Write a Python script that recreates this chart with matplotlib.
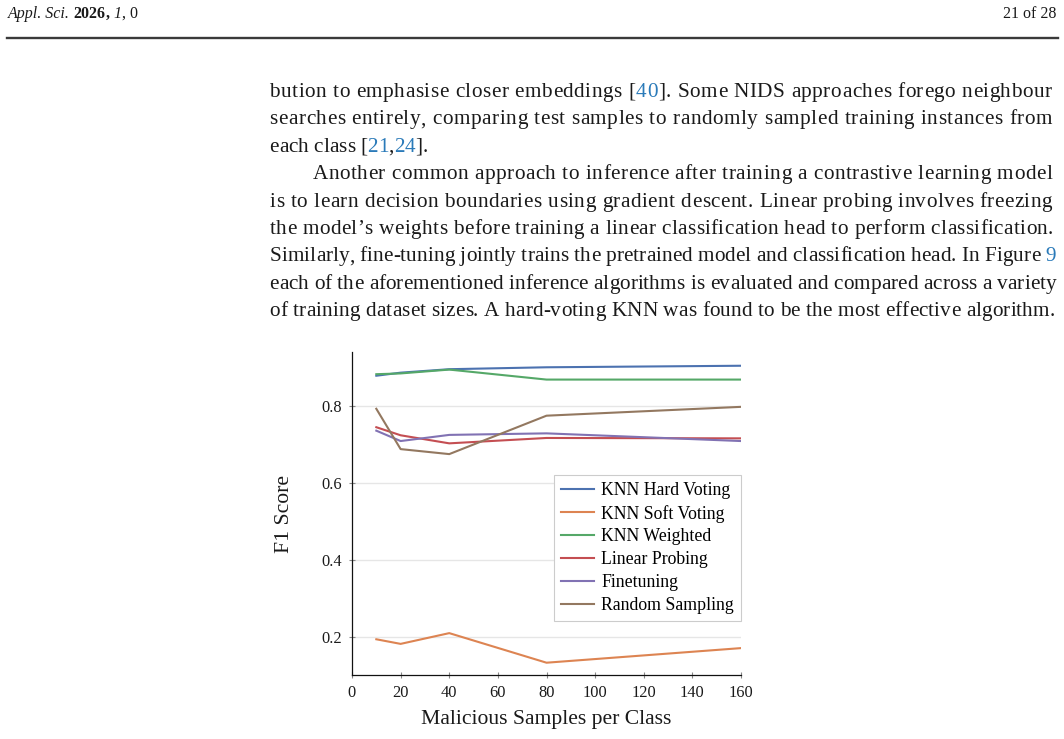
import re

import matplotlib

matplotlib.use("Agg")
import matplotlib.pyplot as plt
from matplotlib import font_manager
from matplotlib.ft2font import FT2Font

# data
samples = [10, 20, 40, 80, 160]
knn_hard = [0.879, 0.887, 0.896, 0.901, 0.905]
knn_soft = [0.193, 0.181, 0.209, 0.132, 0.170]
knn_weighted = [0.883, 0.885, 0.895, 0.869, 0.869]
linear_probing = [0.745, 0.724, 0.703, 0.717, 0.716]
finetuning = [0.736, 0.709, 0.725, 0.729, 0.709]
random_sampling = [0.793, 0.688, 0.675, 0.775, 0.798]

series_names = [
    "KNN Hard Voting",
    "KNN Soft Voting",
    "KNN Weighted",
    "Linear Probing",
    "Finetuning",
    "Random Sampling",
]
x_ticks = [0, 20, 40, 60, 80, 100, 120, 140, 160]
y_ticks = [0.2, 0.4, 0.6, 0.8]

# page text around the figure, {..} marks a blue reference link
body_lines = [
    "bution to emphasise closer embeddings [{40}]. Some NIDS approaches forego neighbour",
    "searches entirely, comparing test samples to randomly sampled training instances from",
    "each class [{21},{24}].",
    "Another common approach to inference after training a contrastive learning model",
    "is to learn decision boundaries using gradient descent. Linear probing involves freezing",
    "the model\u2019s weights before training a linear classification head to perform classification.",
    "Similarly, fine-tuning jointly trains the pretrained model and classification head. In Figure {9}",
    "each of the aforementioned inference algorithms is evaluated and compared across a variety",
    "of training dataset sizes. A hard-voting KNN was found to be the most effective algorithm.",
]

W, H = 1064, 739
SERIF = ["Liberation Serif", "DejaVu Serif"]
INK = "#1a1a1a"
LINK = "#2a7ab9"
colors = ["#4c72b0", "#dd8452", "#55a868", "#c44e52", "#8172b3", "#937860"]
BODY_SIZE = 15.3

plt.rcParams["font.family"] = SERIF

fig = plt.figure(figsize=(W / 100, H / 100), dpi=100)
fig.patch.set_facecolor("white")
renderer = fig.canvas.get_renderer()

# glyph advances for the body font, so the lines can be set justified
ft = FT2Font(font_manager.findfont(font_manager.FontProperties(family=SERIF)))
ft.set_size(BODY_SIZE, 100)
_adv = {}


def advance(c):
    if c not in _adv:
        g = ft.load_char(ord(c))
        _adv[c] = g.linearHoriAdvance / 65536
    return _adv[c]


def fx(x):
    return x / W


def fy(y):
    return 1 - y / H


def text_width(s, size, **kw):
    t = fig.text(0, 0, s, fontsize=size, **kw)
    w = t.get_window_extent(renderer).width
    t.remove()
    return w


def split_line(line):
    # list of (char, colour)
    out = []
    for part in re.split(r"(\{[^}]*\})", line):
        if not part:
            continue
        if part.startswith("{"):
            out += [(ch, LINK) for ch in part[1:-1]]
        else:
            out += [(ch, INK) for ch in part]
    return out


def draw_line(line, y, x0, x1, justify=True):
    chars = split_line(line)
    natural = sum(advance(c) for c, _ in chars)
    n_space = sum(1 for c, _ in chars if c == " ")
    n_letter = len(chars) - 1 - n_space
    track = 0.0
    if justify:
        # spaces take twice the extra of a letter gap
        track = (x1 - x0 - natural) / (n_letter + 2 * n_space)
    x = x0
    for i, (c, col) in enumerate(chars):
        if c == " ":
            x += advance(c) + 2 * track
            continue
        fig.text(fx(x), fy(y), c, fontsize=BODY_SIZE, color=col,
                 ha="left", va="baseline")
        x += advance(c)
        if i + 1 < len(chars) and chars[i + 1][0] != " ":
            x += track


# header
hx = 8
for s, kw in [
    ("Appl. Sci.", dict(style="italic")),
    (" ", {}),
    ("2026", dict(weight="bold")),
    (",", dict(weight="bold")),
    (" ", {}),
    ("1", dict(style="italic")),
    (", 0", {}),
]:
    if s == " ":
        hx += 4
        continue
    fig.text(fx(hx), fy(17.5), s, fontsize=11.5, color=INK,
             ha="left", va="baseline", **kw)
    hx += text_width(s, 11.5, **kw)
fig.text(fx(1056), fy(17.5), "21 of 28", fontsize=11.5, color=INK,
         ha="right", va="baseline")
fig.add_artist(plt.Line2D([fx(7), fx(1058)], [fy(37.8), fy(37.8)],
                          color="#3a3a3a", lw=1.7))

# body text
left, right = 269.5, 1057
for i, line in enumerate(body_lines):
    y = 97 + 27.4 * i
    x0 = 312.5 if i == 3 else left
    draw_line(line, y, x0, right, justify=(i != 2))

# chart
ax = fig.add_axes([fx(352), fy(675), (741 - 352) / W, (675 - 352.3) / H])
all_series = [knn_hard, knn_soft, knn_weighted,
              linear_probing, finetuning, random_sampling]
for vals, name, c in zip(all_series, series_names, colors):
    ax.plot(samples, vals, color=c, lw=1.5, label=name)

ax.set_xlim(0, 160)
ax.set_ylim(0.1, 0.94)
ax.set_xticks(x_ticks)
ax.set_yticks(y_ticks)
ax.set_yticklabels(["%.1f" % v for v in y_ticks])

ax.yaxis.grid(True, color="#e6e6e6", lw=1)
ax.set_axisbelow(True)
for side in ["top", "right"]:
    ax.spines[side].set_visible(False)
for side in ["left", "bottom"]:
    ax.spines[side].set_linewidth(0.9)
    ax.spines[side].set_color("#111111")

ax.tick_params(axis="both", direction="inout", length=5, width=0.8,
               color="#888888", labelsize=11.8, labelcolor=INK)
ax.tick_params(axis="x", pad=5)
ax.tick_params(axis="y", pad=4.5)

ax.set_xlabel("Malicious Samples per Class", fontsize=15.6, color=INK)
ax.set_ylabel("F1 Score", fontsize=15.6, color=INK)
ax.xaxis.set_label_coords(0.5, -0.108)
ax.yaxis.set_label_coords(-0.148, 0.5)

leg = ax.legend(
    loc="upper right",
    bbox_to_anchor=(1.0, 0.6207),
    borderaxespad=0,
    fontsize=12.8,
    frameon=True,
    fancybox=False,
    edgecolor="#cccccc",
    framealpha=1,
    handlelength=1.85,
    handletextpad=0.38,
    labelspacing=0.33,
    borderpad=0.4,
)
leg.get_frame().set_linewidth(0.8)

plt.savefig("out.png", dpi=100, facecolor="white")
